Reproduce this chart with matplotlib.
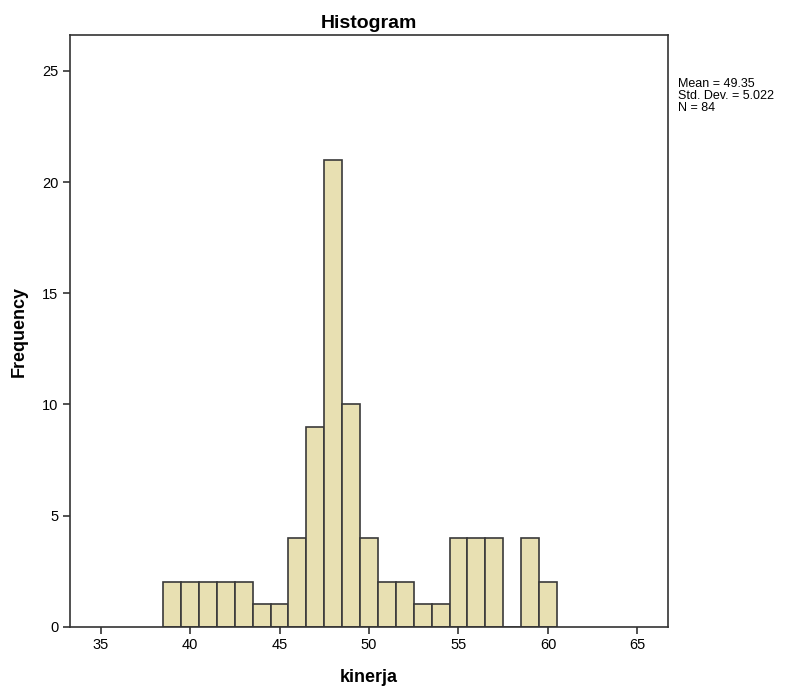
import matplotlib
matplotlib.use('Agg')
import matplotlib.pyplot as plt
import numpy as np

# histogram of kinerja (bin width 1, from 38.5 to 60.5)
bin_edges = [38.5, 39.5, 40.5, 41.5, 42.5, 43.5, 44.5, 45.5, 46.5, 47.5, 48.5,
             49.5, 50.5, 51.5, 52.5, 53.5, 54.5, 55.5, 56.5, 57.5, 58.5, 59.5, 60.5]
counts = [2, 2, 2, 2, 2, 1, 1, 4, 9, 21, 10,
          4, 2, 2, 1, 1, 4, 4, 4, 0, 4, 2]
x_ticks = [35, 40, 45, 50, 55, 60, 65]
y_ticks = [0, 5, 10, 15, 20, 25]
stats_text = 'Mean = 49.35\nStd. Dev. = 5.022\nN = 84'

plt.rcParams['font.family'] = ['Liberation Sans', 'DejaVu Sans']

fig = plt.figure(figsize=(7.97, 6.94), dpi=100)
ax = fig.add_axes([0.088, 0.097, 0.750, 0.852])

lefts = np.array(bin_edges[:-1])
widths = np.diff(bin_edges)
ax.bar(lefts, counts, width=widths, align='edge', color='#e8e0b2',
       edgecolor='#3a3a3a', linewidth=1.2)

ax.set_xlim(33.3, 66.7)
ax.set_ylim(0, 26.6)
ax.set_xticks(x_ticks)
ax.set_yticks(y_ticks)
ax.tick_params(axis='both', labelsize=10.5, color='#333333', length=5, width=1.2)
for s in ax.spines.values():
    s.set_color('#333333')
    s.set_linewidth(1.2)

ax.set_title('Histogram', fontsize=14, fontweight='bold', pad=5)
ax.set_xlabel('kinerja', fontsize=13, fontweight='bold', labelpad=12)
ax.set_ylabel('Frequency', fontsize=13, fontweight='bold', labelpad=10)

fig.text(0.851, 0.888, stats_text, fontsize=9, va='top', ha='left',
         linespacing=1.0)

fig.savefig('out.png', dpi=100, facecolor='white')
